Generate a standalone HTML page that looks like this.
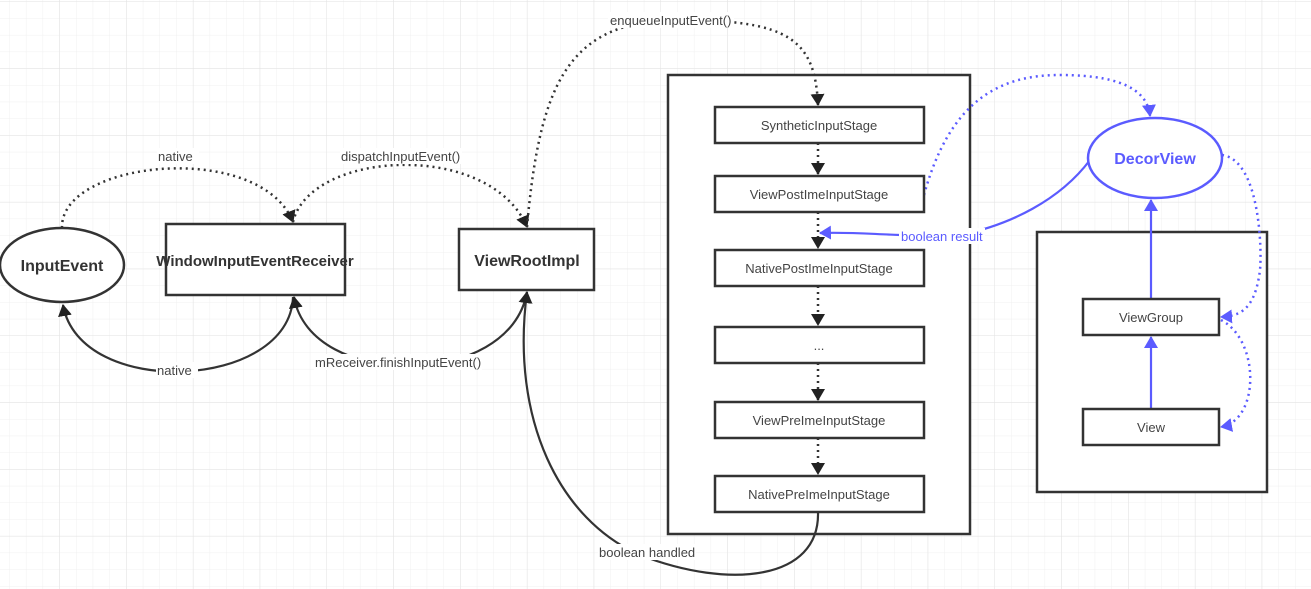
<!DOCTYPE html>
<html><head><meta charset="utf-8"><style>
html,body{margin:0;padding:0;background:#fff;}
svg{display:block;font-family:"Liberation Sans",sans-serif;}
</style></head><body>
<svg width="1311" height="589" viewBox="0 0 1311 589" xmlns="http://www.w3.org/2000/svg">
<defs>
<pattern id="minor" x="-7" y="2" width="16.7" height="16.7" patternUnits="userSpaceOnUse">
<path d="M16.7 0V16.7M0 16.7H16.7" stroke="#f0f0f0" stroke-width="1" fill="none"/>
</pattern>
<pattern id="major" x="-7" y="2" width="66.8" height="66.8" patternUnits="userSpaceOnUse">
<path d="M66.8 0V66.8M0 66.8H66.8" stroke="#e2e2e2" stroke-width="1" fill="none"/>
</pattern>
<marker id="ak" markerWidth="12" markerHeight="14" refX="11" refY="7" orient="auto" markerUnits="userSpaceOnUse"><path d="M0,0 L12,7 L0,14 Z" fill="#222"/></marker>
<marker id="ab" markerWidth="12" markerHeight="14" refX="11" refY="7" orient="auto" markerUnits="userSpaceOnUse"><path d="M0,0 L12,7 L0,14 Z" fill="#5b5bff"/></marker>
</defs>
<rect width="1311" height="589" fill="url(#minor)"/>
<rect width="1311" height="589" fill="url(#major)"/>

<g fill="#fff" stroke="#333" stroke-width="2.5">
<rect x="668" y="75" width="302" height="459"/>
<rect x="1037" y="232" width="230" height="260"/>
</g>

<g fill="none" stroke="#333" stroke-width="2.5" stroke-dasharray="2 4">
<path d="M62 228 C60 160 260 140 293 222" marker-end="url(#ak)"/>
<path d="M293 222 C310 150 490 140 527 227" marker-end="url(#ak)"/>
<path d="M527 227 C540 80 570 20 680 20 C790 20 815 40 818 105" marker-end="url(#ak)"/>
<path d="M818 143 V174" marker-end="url(#ak)"/>
<path d="M818 212 V248" marker-end="url(#ak)"/>
<path d="M818 286 V325" marker-end="url(#ak)"/>
<path d="M818 363 V400" marker-end="url(#ak)"/>
<path d="M818 438 V474" marker-end="url(#ak)"/>
</g>
<g fill="none" stroke="#333" stroke-width="2.2">
<path d="M293 297 C290 390 80 400 63 305" marker-end="url(#ak)"/>
<path d="M527 292 C510 390 310 390 294 297" marker-end="url(#ak)"/>
<path d="M818 512 C820 580 730 590 640 555 C560 520 510 420 527 292" marker-end="url(#ak)"/>
</g>
<g fill="none" stroke="#5b5bff" stroke-width="2.5" stroke-dasharray="2 4">
<path d="M924 195 C950 100 1000 75 1060 75 C1130 75 1148 95 1150 116" marker-end="url(#ab)"/>
<path d="M1222 155 C1260 160 1262 250 1260 270 C1255 310 1240 316 1221 317" marker-end="url(#ab)"/>
<path d="M1221 320 C1260 340 1260 420 1221 427" marker-end="url(#ab)"/>
</g>
<g fill="none" stroke="#5b5bff" stroke-width="2.2">
<path d="M1090 160 C1060 200 1010 225 960 235 L900 235 C870 234 850 232 820 233" marker-end="url(#ab)"/>
<path d="M1151 298 V200" marker-end="url(#ab)"/>
<path d="M1151 408 V337" marker-end="url(#ab)"/>
</g>

<g fill="#fff" stroke="#333" stroke-width="2.5">
<ellipse cx="62" cy="265" rx="62" ry="37"/>
<rect x="166" y="224" width="179" height="71"/>
<rect x="459" y="229" width="135" height="61"/>
<rect x="715" y="107" width="209" height="36"/>
<rect x="715" y="176" width="209" height="36"/>
<rect x="715" y="250" width="209" height="36"/>
<rect x="715" y="327" width="209" height="36"/>
<rect x="715" y="402" width="209" height="36"/>
<rect x="715" y="476" width="209" height="36"/>
<rect x="1083" y="299" width="136" height="36"/>
<rect x="1083" y="409" width="136" height="36"/>
</g>
<ellipse cx="1155" cy="158" rx="67" ry="40" fill="#fff" stroke="#5b5bff" stroke-width="2.5"/>

<g font-size="16" font-weight="bold" fill="#333" text-anchor="middle">
<text x="62" y="271">InputEvent</text>
<text x="255" y="266" font-size="15">WindowInputEventReceiver</text>
<text x="527" y="266">ViewRootImpl</text>
<text x="1155" y="164" fill="#5b5bff">DecorView</text>
</g>
<g font-size="13" fill="#444" text-anchor="middle">
<text x="819" y="130">SyntheticInputStage</text>
<text x="819" y="199">ViewPostImeInputStage</text>
<text x="819" y="273">NativePostImeInputStage</text>
<text x="819" y="350">...</text>
<text x="819" y="425">ViewPreImeInputStage</text>
<text x="819" y="499">NativePreImeInputStage</text>
<text x="1151" y="322">ViewGroup</text>
<text x="1151" y="432">View</text>
</g>
<g font-size="13" fill="#444">
<rect x="157" y="148" width="42" height="16" fill="#fff"/>
<text x="158" y="161">native</text>
<rect x="340" y="148" width="122" height="16" fill="#fff"/>
<text x="341" y="161">dispatchInputEvent()</text>
<rect x="608" y="12" width="126" height="16" fill="#fff"/>
<text x="610" y="25">enqueueInputEvent()</text>
<rect x="156" y="362" width="42" height="16" fill="#fff"/>
<text x="157" y="375">native</text>
<rect x="314" y="354" width="168" height="16" fill="#fff"/>
<text x="315" y="367">mReceiver.finishInputEvent()</text>
<rect x="598" y="544" width="98" height="16" fill="#fff"/>
<text x="599" y="557">boolean handled</text>
<rect x="899" y="228" width="86" height="16" fill="#fff"/>
<text x="901" y="241" fill="#5b5bff">boolean result</text>
</g>
</svg>
</body></html>
